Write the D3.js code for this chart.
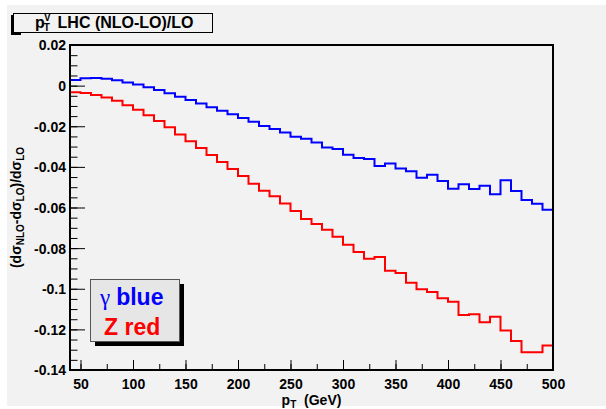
<!DOCTYPE html>
<html>
<head>
<meta charset="utf-8">
<script src="https://cdn.jsdelivr.net/npm/d3@7"></script>
<style>
  body { margin: 0; background: #fff; }
  svg { display: block; font-family: "Liberation Sans", Arial, sans-serif; }
</style>
</head>
<body>
<svg id="chart" width="606" height="409"></svg>
<script>
// bin edges in GeV (10 GeV bins from 40 to 500)
var binEdges = [40, 50, 60, 70, 80, 90, 100, 110, 120, 130, 140, 150, 160, 170, 180, 190,
    200, 210, 220, 230, 240, 250, 260, 270, 280, 290, 300, 310, 320, 330, 340, 350,
    360, 370, 380, 390, 400, 410, 420, 430, 440, 450, 460, 470, 480, 490, 500];

// (NLO-LO)/LO for the photon
var gammaVals = [0.0028, 0.0036, 0.0037, 0.0034, 0.0026, 0.0016, 0.0006, -0.0008,
    -0.0021, -0.0037, -0.0055, -0.0071, -0.0088, -0.0107, -0.0124, -0.0141,
    -0.0159, -0.0178, -0.0199, -0.0213, -0.0231, -0.0252, -0.0262, -0.0280,
    -0.0304, -0.0312, -0.0340, -0.0356, -0.0361, -0.0396, -0.0383, -0.0408,
    -0.0421, -0.0453, -0.0439, -0.0470, -0.0508, -0.0485, -0.0509, -0.0493,
    -0.0535, -0.0466, -0.0519, -0.0563, -0.0581, -0.0611];

// (NLO-LO)/LO for the Z
var zVals = [-0.0033, -0.0036, -0.0046, -0.0058, -0.0074, -0.0097, -0.0119, -0.0146,
    -0.0174, -0.0205, -0.0240, -0.0274, -0.0307, -0.0342, -0.0376, -0.0411,
    -0.0445, -0.0483, -0.0517, -0.0545, -0.0580, -0.0617, -0.0657, -0.0681,
    -0.0709, -0.0744, -0.0783, -0.0819, -0.0852, -0.0844, -0.0911, -0.0923,
    -0.0970, -0.1003, -0.1016, -0.1047, -0.1064, -0.1129, -0.1126, -0.1165,
    -0.1138, -0.1205, -0.1257, -0.1313, -0.1313, -0.1279];

var xTicks = [50, 100, 150, 200, 250, 300, 350, 400, 450, 500];
var yTicks = [0.02, 0, -0.02, -0.04, -0.06, -0.08, -0.1, -0.12, -0.14];

var svg = d3.select("#chart");
var frame = {left: 70, right: 553, top: 45, bottom: 370};

var x = d3.scaleLinear().domain([40, 500]).range([frame.left, frame.right]);
var y = d3.scaleLinear().domain([-0.14, 0.02]).range([frame.bottom, frame.top]);

// canvas pad
svg.append("rect")
    .attr("x", 7).attr("y", 5).attr("width", 599).attr("height", 401)
    .attr("fill", "#f2f2f2");

// minor + major ticks, pointing into the frame
svg.append("g")
    .attr("transform", "translate(" + frame.left + ",0)")
    .call(d3.axisLeft(y).tickValues(y.ticks(32)).tickSize(-7.5).tickFormat(""))
    .call(function (g) { g.select(".domain").remove(); });

svg.append("g")
    .attr("class", "yaxis")
    .attr("transform", "translate(" + frame.left + ",0)")
    .call(d3.axisLeft(y).tickValues(yTicks).tickSize(-15).tickPadding(4)
        .tickFormat(function (d) { return d === 0 ? "0" : String(+d.toFixed(2)); }))
    .call(function (g) { g.select(".domain").remove(); });

svg.append("g")
    .attr("transform", "translate(0," + frame.bottom + ")")
    .call(d3.axisBottom(x).tickValues(d3.range(50, 501, 25)).tickSize(-6).tickFormat(""))
    .call(function (g) { g.select(".domain").remove(); });

svg.append("g")
    .attr("class", "xaxis")
    .attr("transform", "translate(0," + frame.bottom + ")")
    .call(d3.axisBottom(x).tickValues(xTicks).tickSize(-10).tickPadding(9)
        .tickFormat(d3.format("d")))
    .call(function (g) { g.select(".domain").remove(); });

svg.selectAll(".tick line").attr("stroke", "#000").attr("stroke-width", 1);
svg.selectAll(".yaxis text, .xaxis text")
    .attr("font-family", "Liberation Sans, Arial, sans-serif")
    .attr("font-size", 14).attr("font-weight", "bold").attr("fill", "#000");
svg.selectAll(".yaxis text").attr("x", -4).attr("dy", "0.35em");
svg.selectAll(".xaxis text").attr("dy", "0.71em").attr("y", 9);

// histograms
function histPoints(vals) {
    var pts = [];
    vals.forEach(function (v, i) {
        pts.push([x(binEdges[i]), y(v)]);
        pts.push([x(binEdges[i + 1]), y(v)]);
    });
    return pts;
}
var line = d3.line();

svg.append("path")
    .attr("d", line(histPoints(gammaVals)))
    .attr("fill", "none").attr("stroke", "#0000ff").attr("stroke-width", 2);

svg.append("path")
    .attr("d", line(histPoints(zVals)))
    .attr("fill", "none").attr("stroke", "#ff0000").attr("stroke-width", 2);

// frame
svg.append("rect")
    .attr("x", frame.left).attr("y", frame.top)
    .attr("width", frame.right - frame.left).attr("height", frame.bottom - frame.top)
    .attr("fill", "none").attr("stroke", "#000").attr("stroke-width", 2);

// title box (shadow only shows on the left)
svg.append("rect").attr("x", 11).attr("y", 15).attr("width", 10).attr("height", 20).attr("fill", "#000");
svg.append("rect").attr("x", 13.5).attr("y", 13.5).attr("width", 199).attr("height", 19)
    .attr("fill", "#f2f2f2").attr("stroke", "#000").attr("stroke-width", 1);
var title = svg.append("text")
    .attr("x", 35).attr("y", 27.5)
    .attr("font-size", 16).attr("font-weight", "bold").attr("fill", "#000");
title.append("tspan").text("p");
title.append("tspan").attr("font-size", 10).attr("dx", -1).attr("dy", 3).text("T");
title.append("tspan").attr("font-size", 10).attr("dx", -6).attr("dy", -10).text("V");
title.append("tspan").attr("dy", 7).attr("dx", 7).text("LHC (NLO-LO)/LO");

// axis titles
var xt = svg.append("text")
    .attr("x", (frame.left + frame.right) / 2).attr("y", 405)
    .attr("text-anchor", "middle")
    .attr("font-size", 14).attr("font-weight", "bold").attr("fill", "#000");
xt.append("tspan").text("p");
xt.append("tspan").attr("font-size", 10).attr("dy", 3).text("T");
xt.append("tspan").attr("dy", -3).text("\u00a0 (GeV)");

var yt = svg.append("text")
    .attr("transform", "translate(21," + (frame.top + frame.bottom) / 2 + ") rotate(-90)")
    .attr("text-anchor", "middle")
    .attr("font-size", 14).attr("font-weight", "bold").attr("fill", "#000");
yt.append("tspan").text("(d\u03c3");
yt.append("tspan").attr("font-size", 10).attr("dy", 3).text("NLO");
yt.append("tspan").attr("dy", -3).text("-d\u03c3");
yt.append("tspan").attr("font-size", 10).attr("dy", 3).text("LO");
yt.append("tspan").attr("dy", -3).text(")/d\u03c3");
yt.append("tspan").attr("font-size", 10).attr("dy", 3).text("LO");

// legend
svg.append("rect").attr("x", 95).attr("y", 284).attr("width", 89).attr("height", 62).attr("fill", "#000");
svg.append("rect").attr("x", 90.5).attr("y", 279.5).attr("width", 89).attr("height", 62)
    .attr("fill", "#e6e6e6").attr("stroke", "#555").attr("stroke-width", 1);
var l1 = svg.append("text").attr("x", 100).attr("y", 305).attr("font-size", 23).attr("fill", "#0000ff");
l1.append("tspan").attr("font-family", "Liberation Serif, serif").text("\u03b3");
l1.append("tspan").attr("dx", 6).attr("font-weight", "bold").text("blue");
svg.append("text").attr("x", 104).attr("y", 335).attr("font-size", 23)
    .attr("font-weight", "bold").attr("fill", "#ff0000").text("Z red");
</script>
</body>
</html>
